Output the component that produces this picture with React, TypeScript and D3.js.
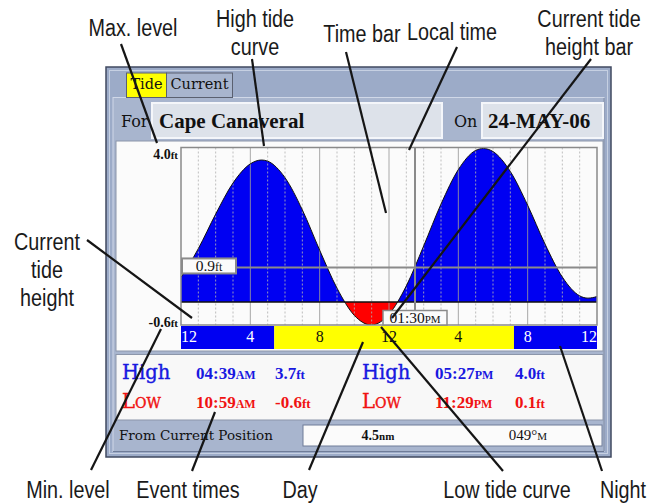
import React from 'react';
import * as d3 from 'd3';

// ---- data ----
const hours = [0, 1, 2, 3, 4, 4.65, 5, 6, 7, 8, 9, 10, 10.98, 12, 13, 14, 15, 16, 17, 17.45, 18, 19, 20, 21, 22, 23, 23.48, 24];
const heights = [0.64, 1.39, 2.29, 3.1, 3.6, 3.7, 3.67, 3.24, 2.4, 1.35, 0.36, -0.35, -0.6, -0.32, 0.42, 1.46, 2.55, 3.45, 3.95, 4.0, 3.92, 3.4, 2.52, 1.51, 0.65, 0.16, 0.1, 0.14];
const tickHours = [0, 4, 8, 12, 16, 20, 24];
const tickLabels = ['12', '4', '8', '12', '4', '8', '12'];
const gridHours = d3.range(1, 24);
const dayStart = 5.38;
const dayEnd = 19.21;
const currentHour = 13.5;
const currentTime = '01:30';
const currentAmpm = 'PM';
const currentHeight = 0.9;
const maxLevel = 4.0;
const minLevel = -0.6;

const eventKinds = ['High', 'Low', 'High', 'Low'];
const eventTimes = ['04:39', '10:59', '05:27', '11:29'];
const eventAmpm = ['AM', 'AM', 'PM', 'PM'];
const eventHeights = ['3.7', '-0.6', '4.0', '0.1'];

const stationName = 'Cape Canaveral';
const dateLabel = '24-MAY-06';
const distance = '4.5';
const bearing = '049°';

const BLUE = '#0000f2';
const TXT_BLUE = '#1818e0';
const RED = '#ff0000';
const TXT_RED = '#f01212';
const YELLOW = '#ffff00';
const SERIF = "'Liberation Serif', 'Times New Roman', serif";
const DSERIF = "'DejaVu Serif', serif";
const SANS = "'Liberation Sans', Arial, sans-serif";

type Ann = { lines: string[]; x: number; y: number; from: [number, number]; to: [number, number] };
const annotations: Ann[] = [
  { lines: ['Max. level'], x: 133, y: 36, from: [121, 44], to: [157, 143] },
  { lines: ['High tide', 'curve'], x: 255, y: 27, from: [252, 59], to: [264, 146] },
  { lines: ['Time bar'], x: 362, y: 42, from: [346, 52], to: [386, 213] },
  { lines: ['Local time'], x: 452, y: 40, from: [457, 47], to: [409, 150] },
  { lines: ['Current tide', 'height bar'], x: 589, y: 27, from: [591, 59], to: [392, 318] },
  { lines: ['Current', 'tide', 'height'], x: 47, y: 250, from: [87, 240], to: [192, 318] },
  { lines: ['Min. level'], x: 68, y: 498, from: [91, 470], to: [161, 329] },
  { lines: ['Event times'], x: 188, y: 498, from: [192, 471], to: [215, 412] },
  { lines: ['Day'], x: 300, y: 498, from: [309, 470], to: [363, 342] },
  { lines: ['Low tide curve'], x: 507, y: 498, from: [503, 471], to: [381, 327] },
  { lines: ['Night'], x: 623, y: 498, from: [602, 471], to: [560, 346] },
];

export default function App() {
  const x = d3.scaleLinear().domain([0, 24]).range([181, 597]);
  const y = d3.scaleLinear().domain([minLevel, maxLevel]).range([325, 148.5]);
  const pts: [number, number][] = hours.map((h, i) => [h, heights[i]]);
  const area = d3.area<[number, number]>().x(d => x(d[0])).y0(y(0)).y1(d => y(d[1])).curve(d3.curveMonotoneX);
  const line = d3.line<[number, number]>().x(d => x(d[0])).y(d => y(d[1])).curve(d3.curveMonotoneX);
  const [x0, x1] = x.range();
  const yTop = 147.5;
  const yBot = 325;
  const y0 = y(0);

  const bandTop = 326;
  const bandBot = 349;
  const isDay = (h: number) => h >= dayStart && h <= dayEnd;

  const colX = [[122, 196, 275], [362, 435, 515]];
  const rowY = [379, 408];

  return (
    <svg width={650} height={504} style={{ position: 'absolute', left: 0, top: 0, background: '#fff' }}>
      <defs>
        <clipPath id="above"><rect x={x0} y={yTop} width={x1 - x0} height={y0 - yTop} /></clipPath>
        <clipPath id="below"><rect x={x0} y={y0} width={x1 - x0} height={yBot - y0} /></clipPath>
        <clipPath id="plot"><rect x={x0} y={yTop} width={x1 - x0} height={yBot - yTop} /></clipPath>
      </defs>

      {/* device frame */}
      <rect x={106} y={67} width={505} height={390} fill="#9cabc8" stroke="#404a60" strokeWidth={1.5} />
      <rect x={109.5} y={70.5} width={498} height={383} fill="none" stroke="#c6d0e2" strokeWidth={1} />
      <rect x={113} y={97.5} width={491} height={354} fill="#a8b5ce" stroke="#d0d8e8" strokeWidth={1} />
      <line x1={604} y1={98} x2={604} y2={451} stroke="#6f7c98" strokeWidth={1} />
      <line x1={113} y1={451.5} x2={604} y2={451.5} stroke="#6f7c98" strokeWidth={1} />

      {/* tabs */}
      <rect x={126.5} y={73} width={40} height={24.5} fill={YELLOW} stroke="#5a6070" strokeWidth={1} />
      <rect x={166.5} y={73} width={66} height={24.5} fill="#a8b5ce" stroke="#5a6070" strokeWidth={1} />
      <text x={146.5} y={89} textAnchor="middle" fontFamily={DSERIF} fontSize={14.5} fill="#111">Tide</text>
      <text x={199.5} y={89} textAnchor="middle" fontFamily={DSERIF} fontSize={14.5} fill="#111">Current</text>

      {/* station / date row */}
      <text x={121} y={127} fontFamily={DSERIF} fontSize={16} fill="#111">For</text>
      <rect x={152} y={103} width={290} height={35} fill="#dde2ea" stroke="#f4f6fa" strokeWidth={2} />
      <text x={159} y={128} fontFamily={SERIF} fontWeight="bold" fontSize={21} fill="#111">{stationName}</text>
      <text x={454} y={127} fontFamily={DSERIF} fontSize={16} fill="#111">On</text>
      <rect x={482} y={103} width={121} height={35} fill="#dde2ea" stroke="#f4f6fa" strokeWidth={2} />
      <text x={488} y={128} fontFamily={SERIF} fontWeight="bold" fontSize={21} fill="#111">{dateLabel}</text>

      {/* chart panel */}
      <rect x={116} y={141} width={487} height={210} fill="#fbfbfb" stroke="#8c96aa" strokeWidth={1} />

      {/* tide fill */}
      <path d={area(pts) || ''} fill={BLUE} clipPath="url(#above)" />
      <path d={area(pts) || ''} fill={RED} clipPath="url(#below)" />

      {/* grid */}
      <g clipPath="url(#plot)">
        {gridHours.map(h => (
          <line key={h} x1={x(h)} x2={x(h)} y1={yTop} y2={yBot}
            stroke={h % 4 === 0 ? '#9a9a9a' : '#b4b4b4'} strokeWidth={1}
            strokeDasharray={h % 4 === 0 ? undefined : '2,2'} opacity={0.85} />
        ))}
      </g>

      {/* curve outline */}
      <path d={line(pts) || ''} fill="none" stroke="#111" strokeWidth={1} clipPath="url(#plot)" />
      <line x1={x0} x2={x1} y1={y0} y2={y0} stroke="#111" strokeWidth={1.5} />

      {/* plot border */}
      <rect x={x0} y={yTop} width={x1 - x0} height={yBot - yTop} fill="none" stroke="#8a8a8a" strokeWidth={1.5} />

      {/* current height & time bars */}
      <line x1={x0} x2={x1} y1={y(currentHeight)} y2={y(currentHeight)} stroke="#8a8a8a" strokeWidth={2} />
      <line x1={x(currentHour)} x2={x(currentHour)} y1={yTop} y2={yBot} stroke="#8a8a8a" strokeWidth={2} />

      <rect x={x0 + 1} y={y(currentHeight) - 9} width={54} height={15} fill="#fbfbfb" stroke="#8a8a8a" strokeWidth={2} />
      <text x={x0 + 28} y={y(currentHeight) + 4} textAnchor="middle" fontFamily={SERIF} fontSize={15.5} fill="#111">
        {currentHeight.toFixed(1)}<tspan fontSize={12}>ft</tspan>
      </text>

      <rect x={x(currentHour) - 32} y={yBot - 14.5} width={64} height={14.5} fill="#fbfbfb" stroke="#8a8a8a" strokeWidth={1.5} />
      <text x={x(currentHour)} y={yBot - 2.5} textAnchor="middle" fontFamily={SERIF} fontSize={15.5} fill="#111">
        {currentTime}<tspan fontSize={11}>{currentAmpm}</tspan>
      </text>

      {/* y labels */}
      <text x={178} y={159} textAnchor="end" fontFamily={SERIF} fontWeight="bold" fontSize={14} fill="#111">
        {maxLevel.toFixed(1)}<tspan fontSize={11}>ft</tspan>
      </text>
      <text x={178} y={326.5} textAnchor="end" fontFamily={SERIF} fontWeight="bold" fontSize={14} fill="#111">
        {minLevel.toFixed(1)}<tspan fontSize={11}>ft</tspan>
      </text>

      {/* day / night band */}
      <rect x={x0} y={bandTop} width={x(dayStart) - x0} height={bandBot - bandTop} fill={BLUE} />
      <rect x={x(dayStart)} y={bandTop} width={x(dayEnd) - x(dayStart)} height={bandBot - bandTop} fill={YELLOW} />
      <rect x={x(dayEnd)} y={bandTop} width={x1 - x(dayEnd)} height={bandBot - bandTop} fill={BLUE} />
      {tickHours.map((h, i) => (
        <text key={i} x={x(h)} y={342}
          textAnchor={i === 0 ? 'start' : i === tickHours.length - 1 ? 'end' : 'middle'}
          fontFamily={SERIF} fontSize={16} fill={isDay(h) ? '#111' : '#fff'}>{tickLabels[i]}</text>
      ))}

      {/* events panel */}
      <rect x={116} y={354.5} width={487} height={65.5} fill="#f8f8f8" stroke="#8c96aa" strokeWidth={1} />
      {eventKinds.map((k, i) => {
        const col = colX[Math.floor(i / 2)];
        const yy = rowY[i % 2];
        const c = k === 'High' ? TXT_BLUE : TXT_RED;
        return (
          <g key={i} fill={c}>
            <text x={col[0]} y={yy} fontFamily={DSERIF} fontSize={19.5} stroke={c} strokeWidth={0.4}>
              {k === 'High' ? 'High' : <>L<tspan fontSize={14}>OW</tspan></>}
            </text>
            <text x={col[1]} y={yy} fontFamily={SERIF} fontWeight="bold" fontSize={17}>
              {eventTimes[i]}<tspan fontSize={12}>{eventAmpm[i]}</tspan>
            </text>
            <text x={col[2]} y={yy} fontFamily={SERIF} fontWeight="bold" fontSize={17}>
              {eventHeights[i]}<tspan fontSize={13}>ft</tspan>
            </text>
          </g>
        );
      })}

      {/* position row */}
      <text x={119} y={440} fontFamily={DSERIF} fontSize={13.5} fill="#111">From Current Position</text>
      <rect x={303} y={425} width={299} height={21} fill="#fbfbfb" stroke="#6f7c98" strokeWidth={1} />
      <text x={378} y={440} textAnchor="middle" fontFamily={SERIF} fontWeight="bold" fontSize={14} fill="#111">
        {distance}<tspan fontSize={11}>nm</tspan>
      </text>
      <text x={528} y={440} textAnchor="middle" fontFamily={SERIF} fontSize={15} fill="#111">
        {bearing}<tspan fontSize={11}>M</tspan>
      </text>

      {/* annotations */}
      {annotations.map((a, i) => (
        <g key={i}>
          <line x1={a.from[0]} y1={a.from[1]} x2={a.to[0]} y2={a.to[1]} stroke="#151515" strokeWidth={2.2} />
          {a.lines.map((t, j) => (
            <text key={j} transform={`translate(${a.x},${a.y + j * 28}) scale(0.86,1)`} textAnchor="middle"
              fontFamily={SANS} fontSize={23} fill="#1a1a1a">{t}</text>
          ))}
        </g>
      ))}
    </svg>
  );
}
